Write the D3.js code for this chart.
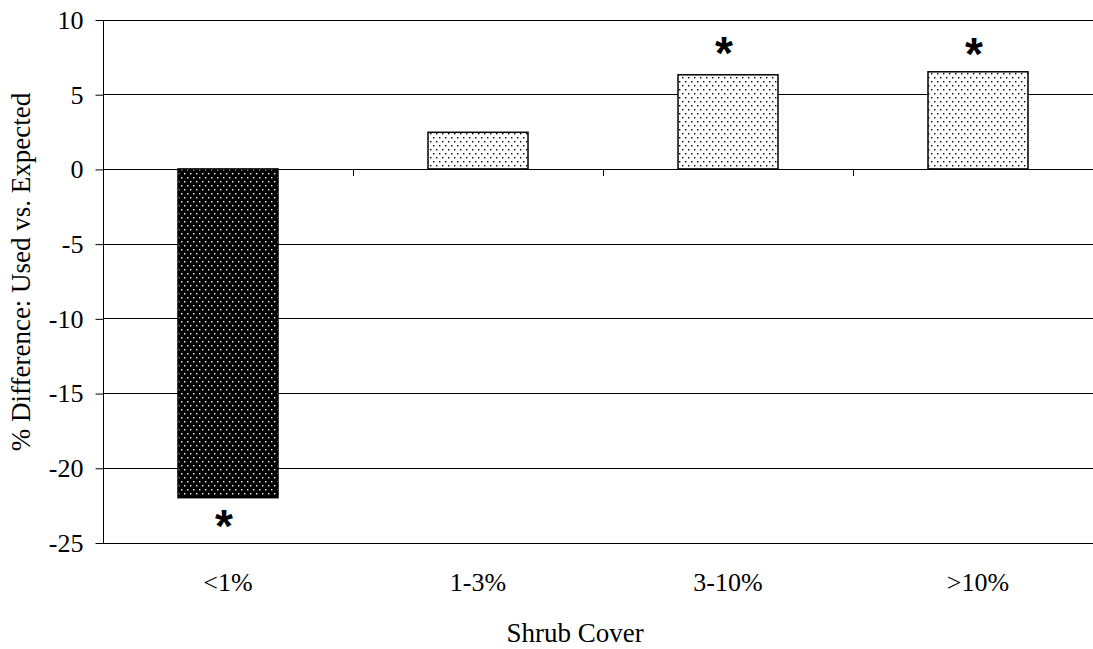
<!DOCTYPE html>
<html>
<head>
<meta charset="utf-8">
<script src="https://cdn.jsdelivr.net/npm/d3@7"></script>
<style>
  body { margin: 0; background: #fff; }
  svg { display: block; }
  text { font-family: "Liberation Serif", "Times New Roman", serif; fill: #000; }
</style>
</head>
<body>
<div class="container"></div>
<script>
const WIDTH = 1093;
const HEIGHT = 649;

// data
var categories = ["<1%", "1-3%", "3-10%", ">10%"];
var values = [-22, 2.45, 6.3, 6.5];
var significant = [true, false, true, true];
var yTicks = [10, 5, 0, -5, -10, -15, -20, -25];

const PLOT_LEFT = 103, PLOT_RIGHT = 1103, PLOT_TOP = 19.5, PLOT_BOTTOM = 542.5;
const FONT = "Liberation Serif, Times New Roman, serif";

var x = d3.scaleBand().domain(categories).range([PLOT_LEFT, PLOT_RIGHT]).paddingInner(0.6).paddingOuter(0.3);
var y = d3.scaleLinear().domain([-25, 10]).range([PLOT_BOTTOM, PLOT_TOP]);

var svg = d3.select(".container")
    .append("svg")
    .attr("width", WIDTH)
    .attr("height", HEIGHT);

var defs = svg.append("defs");

// light dotted pattern
var pLight = defs.append("pattern")
    .attr("id", "dotsLight")
    .attr("patternUnits", "userSpaceOnUse")
    .attr("width", 6).attr("height", 8);
pLight.append("rect").attr("width", 6).attr("height", 8).attr("fill", "#fff");
pLight.append("rect").attr("x", 1).attr("y", 1).attr("width", 1.4).attr("height", 1.4).attr("fill", "#000");
pLight.append("rect").attr("x", 4).attr("y", 5).attr("width", 1.4).attr("height", 1.4).attr("fill", "#000");

// dark dotted pattern
var pDark = defs.append("pattern")
    .attr("id", "dotsDark")
    .attr("patternUnits", "userSpaceOnUse")
    .attr("width", 6).attr("height", 8);
pDark.append("rect").attr("width", 6).attr("height", 8).attr("fill", "#000");
pDark.append("rect").attr("x", 1).attr("y", 1).attr("width", 1.4).attr("height", 1.4).attr("fill", "#fff");
pDark.append("rect").attr("x", 4).attr("y", 5).attr("width", 1.4).attr("height", 1.4).attr("fill", "#fff");

// gridlines
svg.append("g")
    .selectAll("line")
    .data(yTicks)
    .enter().append("line")
    .attr("x1", PLOT_LEFT).attr("x2", PLOT_RIGHT)
    .attr("y1", function(d){ return Math.round(y(d)) + 0.5; })
    .attr("y2", function(d){ return Math.round(y(d)) + 0.5; })
    .attr("stroke", "#000")
    .attr("stroke-width", 1);

// y axis
var yAxis = svg.append("g")
    .attr("transform", "translate(" + (PLOT_LEFT + 0.5) + ",0.5)")
    .call(d3.axisLeft(y).tickValues(yTicks).tickSize(8).tickPadding(12));
yAxis.select(".domain").attr("stroke", "#000").attr("d", "M0," + PLOT_TOP + "V" + PLOT_BOTTOM);
yAxis.selectAll("text")
    .style("font-size", "26px")
    .style("font-family", FONT)
    .text(function(d){ return d < 0 ? "-" + Math.abs(d) : d; });

// bars
svg.append("g")
    .selectAll("rect")
    .data(categories)
    .enter().append("rect")
    .attr("x", function(d){ return x(d); })
    .attr("width", x.bandwidth())
    .attr("y", function(d, i){ return y(Math.max(0, values[i])); })
    .attr("height", function(d, i){ return Math.abs(y(values[i]) - y(0)); })
    .attr("fill", function(d, i){ return values[i] < 0 ? "url(#dotsDark)" : "url(#dotsLight)"; })
    .attr("stroke", "#000")
    .attr("stroke-width", 1.5);

// x axis at zero (category separators)
var step = x.step();
var seps = categories.slice(1).map(function(c){ return x(c) - (step - x.bandwidth()) / 2; });
svg.append("g")
    .selectAll("line")
    .data(seps)
    .enter().append("line")
    .attr("x1", function(d){ return Math.round(d) + 0.5; })
    .attr("x2", function(d){ return Math.round(d) + 0.5; })
    .attr("y1", Math.round(y(0)))
    .attr("y2", Math.round(y(0)) + 7)
    .attr("stroke", "#000");

// category labels
svg.append("g")
    .selectAll("text")
    .data(categories)
    .enter().append("text")
    .attr("x", function(d){ return x(d) + x.bandwidth() / 2; })
    .attr("y", 591)
    .attr("text-anchor", "middle")
    .style("font-family", FONT)
    .style("font-size", "26px")
    .text(function(d){ return d; });

// significance asterisks
svg.append("g")
    .selectAll("text")
    .data(categories.filter(function(d, i){ return significant[i]; }))
    .enter().append("text")
    .attr("x", function(d){ return x(d) + x.bandwidth() / 2 - 4; })
    .attr("y", function(d){
        var v = values[categories.indexOf(d)];
        return v < 0 ? y(v) + 44 : y(v) + (v > 6.4 ? -2 : -6);
    })
    .attr("text-anchor", "middle")
    .style("font-family", "Liberation Sans, Arial, sans-serif")
    .style("font-weight", "bold")
    .style("font-size", "46px")
    .text("*");

// axis titles
svg.append("text")
    .attr("x", 575)
    .attr("y", 642)
    .attr("text-anchor", "middle")
    .style("font-family", FONT)
    .style("font-size", "27px")
    .text("Shrub Cover");

svg.append("text")
    .attr("transform", "translate(30,272) rotate(-90)")
    .attr("text-anchor", "middle")
    .style("font-family", FONT)
    .style("font-size", "27px")
    .text("% Difference: Used vs. Expected");
</script>
</body>
</html>
